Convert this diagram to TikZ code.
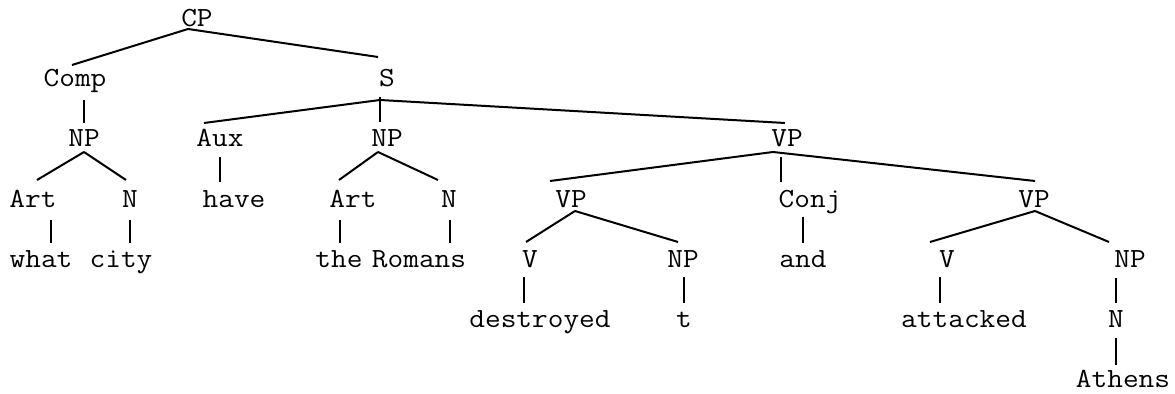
\documentclass[tikz,border=0pt]{standalone}
\usepackage{fontspec}
\newfontfamily\treefont[FakeStretch=1.1]{Latin Modern Mono}
\usetikzlibrary{calc}
\tikzset{
  lab/.style={inner sep=0pt, anchor=base, font=\treefont\fontsize{13.85}{16}\selectfont},
  branch/.style={line width=1pt, line cap=butt}
}
\newcommand\lnk[6]{\draw[branch] ($(#1.base)+(#2,#3)$) -- ($(#4.base)+(#5,#6)$);}
\begin{document}
\begin{tikzpicture}[x=0.5pt,y=-0.5pt]
\useasboundingbox (0,0) rectangle (1175,394);
% row 1
\node[lab] (cp) at (197,27) {CP};
% row 2
\node[lab] (comp) at (75,87) {Comp};
\node[lab] (s) at (387,87) {S};
% row 3
\node[lab] (np1) at (84,147) {NP};
\node[lab] (aux) at (220,147) {Aux};
\node[lab] (np2) at (387,147) {NP};
\node[lab] (vp1) at (787,147) {VP};
% row 4
\node[lab] (art1) at (33,208) {Art};
\node[lab] (n1) at (130,208) {N};
\node[lab] (have) at (234,208) {have};
\node[lab] (art2) at (353,208) {Art};
\node[lab] (n2) at (449,208) {N};
\node[lab] (vp2) at (571,208) {VP};
\node[lab] (conj) at (810,208) {Conj};
\node[lab] (vp3) at (1034,208) {VP};
% row 5
\node[lab] (what) at (41,268) {what};
\node[lab] (city) at (121,268) {city};
\node[lab] (the) at (339,268) {the};
\node[lab] (romans) at (419,268) {Romans};
\node[lab] (v1) at (530,268) {V};
\node[lab] (np3) at (683,268) {NP};
\node[lab] (and) at (803,268) {and};
\node[lab] (v2) at (947,268) {V};
\node[lab] (np4) at (1130,268) {NP};
% row 6
\node[lab] (destroyed) at (540,328) {destroyed};
\node[lab] (t) at (684,328) {t};
\node[lab] (attacked) at (964,328) {attacked};
\node[lab] (n3) at (1116,328) {N};
% row 7
\node[lab] (athens) at (1123,388) {Athens};
% branches
\lnk{cp}{-9}{2}{comp}{-3}{-22}
\lnk{cp}{-9}{2}{s}{-9}{-30}
\lnk{comp}{9}{13}{np1}{0}{-24}
\lnk{np1}{0}{5}{art1}{4}{-28}
\lnk{np1}{0}{5}{n1}{-4}{-28}
\lnk{art1}{18}{12}{what}{10}{-25}
\lnk{n1}{0}{12}{city}{9}{-25}
\lnk{s}{-7}{13}{aux}{-16}{-24}
\lnk{s}{-7}{10}{np2}{-7}{-25}
\lnk{s}{-7}{13}{vp1}{-2}{-24}
\lnk{aux}{0}{10}{have}{-14}{-26}
\lnk{np2}{-9}{5}{art2}{-14}{-28}
\lnk{np2}{-9}{5}{n2}{-11}{-28}
\lnk{art2}{-13}{12}{the}{1}{-25}
\lnk{n2}{1}{12}{romans}{31}{-25}
\lnk{vp1}{-14}{5}{vp2}{-21}{-27}
\lnk{vp1}{-6}{10}{conj}{-29}{-26}
\lnk{vp1}{-14}{5}{vp3}{1}{-27}
\lnk{vp2}{4}{3}{v1}{-4}{-26}
\lnk{vp2}{4}{3}{np3}{-5}{-26}
\lnk{v1}{-6}{9}{destroyed}{-16}{-25}
\lnk{np3}{1}{9}{t}{0}{-25}
\lnk{conj}{-7}{9}{and}{0}{-25}
\lnk{vp3}{1}{3}{v2}{-17}{-26}
\lnk{vp3}{1}{3}{np4}{-21}{-26}
\lnk{v2}{-7}{9}{attacked}{-24}{-25}
\lnk{np4}{-14}{10}{n3}{0}{-25}
\lnk{n3}{0}{10}{athens}{-7}{-23}
\end{tikzpicture}
\end{document}
